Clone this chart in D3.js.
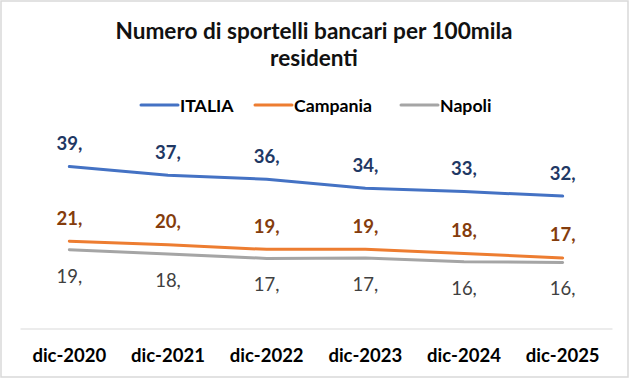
<!DOCTYPE html>
<html>
<head>
<meta charset="utf-8">
<script src="https://cdn.jsdelivr.net/npm/d3@7"></script>
<style>
  html, body { margin: 0; padding: 0; background: #fff; }
  svg { display: block; }
  text { font-family: Lato, "Open Sans", sans-serif; }
</style>
</head>
<body>
<svg id="chart" width="632" height="380"></svg>
<script>
const categories = ["dic-2020", "dic-2021", "dic-2022", "dic-2023", "dic-2024", "dic-2025"];
const italia   = [39.5, 37.4, 36.4, 34.2, 33.4, 32.3];
const campania = [21.3, 20.4, 19.3, 19.3, 18.3, 17.2];
const napoli   = [19.2, 18.2, 17.1, 17.2, 16.3, 16.1];
const seriesNames = ["ITALIA", "Campania", "Napoli"];
const titleLines = ["Numero di sportelli bancari per 100mila", "residenti"];
const yDomain = [0, 45];

const series = [
  { name: seriesNames[0], values: italia,   color: "#4472C4", labelColor: "#1F3864", bold: true,  pos: "above" },
  { name: seriesNames[1], values: campania, color: "#ED7D31", labelColor: "#843C0C", bold: true,  pos: "above" },
  { name: seriesNames[2], values: napoli,   color: "#A5A5A5", labelColor: "#404040", bold: false, pos: "below" }
];

const svg = d3.select("#chart");

// chart border
svg.append("rect")
  .attr("x", 1).attr("y", 1).attr("width", 627).attr("height", 376)
  .attr("fill", "#fff").attr("stroke", "#D9D9D9").attr("stroke-width", 1.5);

// title
const title = svg.append("text")
  .attr("text-anchor", "middle")
  .attr("font-size", 22.6).attr("font-weight", 700).attr("fill", "#111");
titleLines.forEach((t, i) => {
  title.append("tspan").attr("x", 314).attr("y", 39 + i * 27).text(t);
});

// scales
const x = d3.scaleBand().domain(categories).range([20, 612]);
const y = d3.scaleLinear().domain(yDomain).range([328.5, 328.5 - 45 * 4.1]);
const cx = c => x(c) + x.bandwidth() / 2;

// x axis
const xAxis = d3.axisBottom(x).tickSize(0).tickPadding(0);
const gx = svg.append("g").attr("transform", `translate(0,${y(0)})`).call(xAxis);
gx.select(".domain").attr("stroke", "#D9D9D9").attr("stroke-width", 1.2);
gx.selectAll(".tick text")
  .attr("dy", 0).attr("y", 33)
  .attr("font-family", "Lato, sans-serif")
  .attr("font-size", 18.5).attr("font-weight", 700).attr("fill", "#000");

// lines
const line = d3.line()
  .x((d, i) => cx(categories[i]))
  .y(d => y(d));

series.forEach(s => {
  svg.append("path")
    .datum(s.values)
    .attr("d", line)
    .attr("fill", "none")
    .attr("stroke", s.color)
    .attr("stroke-width", 3)
    .attr("stroke-linejoin", "round")
    .attr("stroke-linecap", "round");
});

// data labels
series.forEach(s => {
  svg.append("g").selectAll("text")
    .data(s.values)
    .join("text")
    .attr("x", (d, i) => cx(categories[i]))
    .attr("y", d => s.pos === "above" ? y(d) - 16.5 : y(d) + 33)
    .attr("text-anchor", "middle")
    .attr("font-size", 18.5)
    .attr("font-weight", s.bold ? 700 : 400)
    .attr("fill", s.labelColor)
    .text(d => Math.floor(d) + ",");
});

// legend
const legendItems = [
  { s: series[0], x: 141 },
  { s: series[1], x: 255 },
  { s: series[2], x: 401 }
];
const lg = svg.append("g");
legendItems.forEach(it => {
  lg.append("line")
    .attr("x1", it.x).attr("x2", it.x + 37)
    .attr("y1", 105).attr("y2", 105)
    .attr("stroke", it.s.color).attr("stroke-width", 3)
    .attr("stroke-linecap", "round");
  lg.append("text")
    .attr("x", it.x + 39).attr("y", 111.5)
    .attr("font-size", 17.7).attr("font-weight", 700).attr("fill", "#000")
    .text(it.s.name);
});
</script>
</body>
</html>
